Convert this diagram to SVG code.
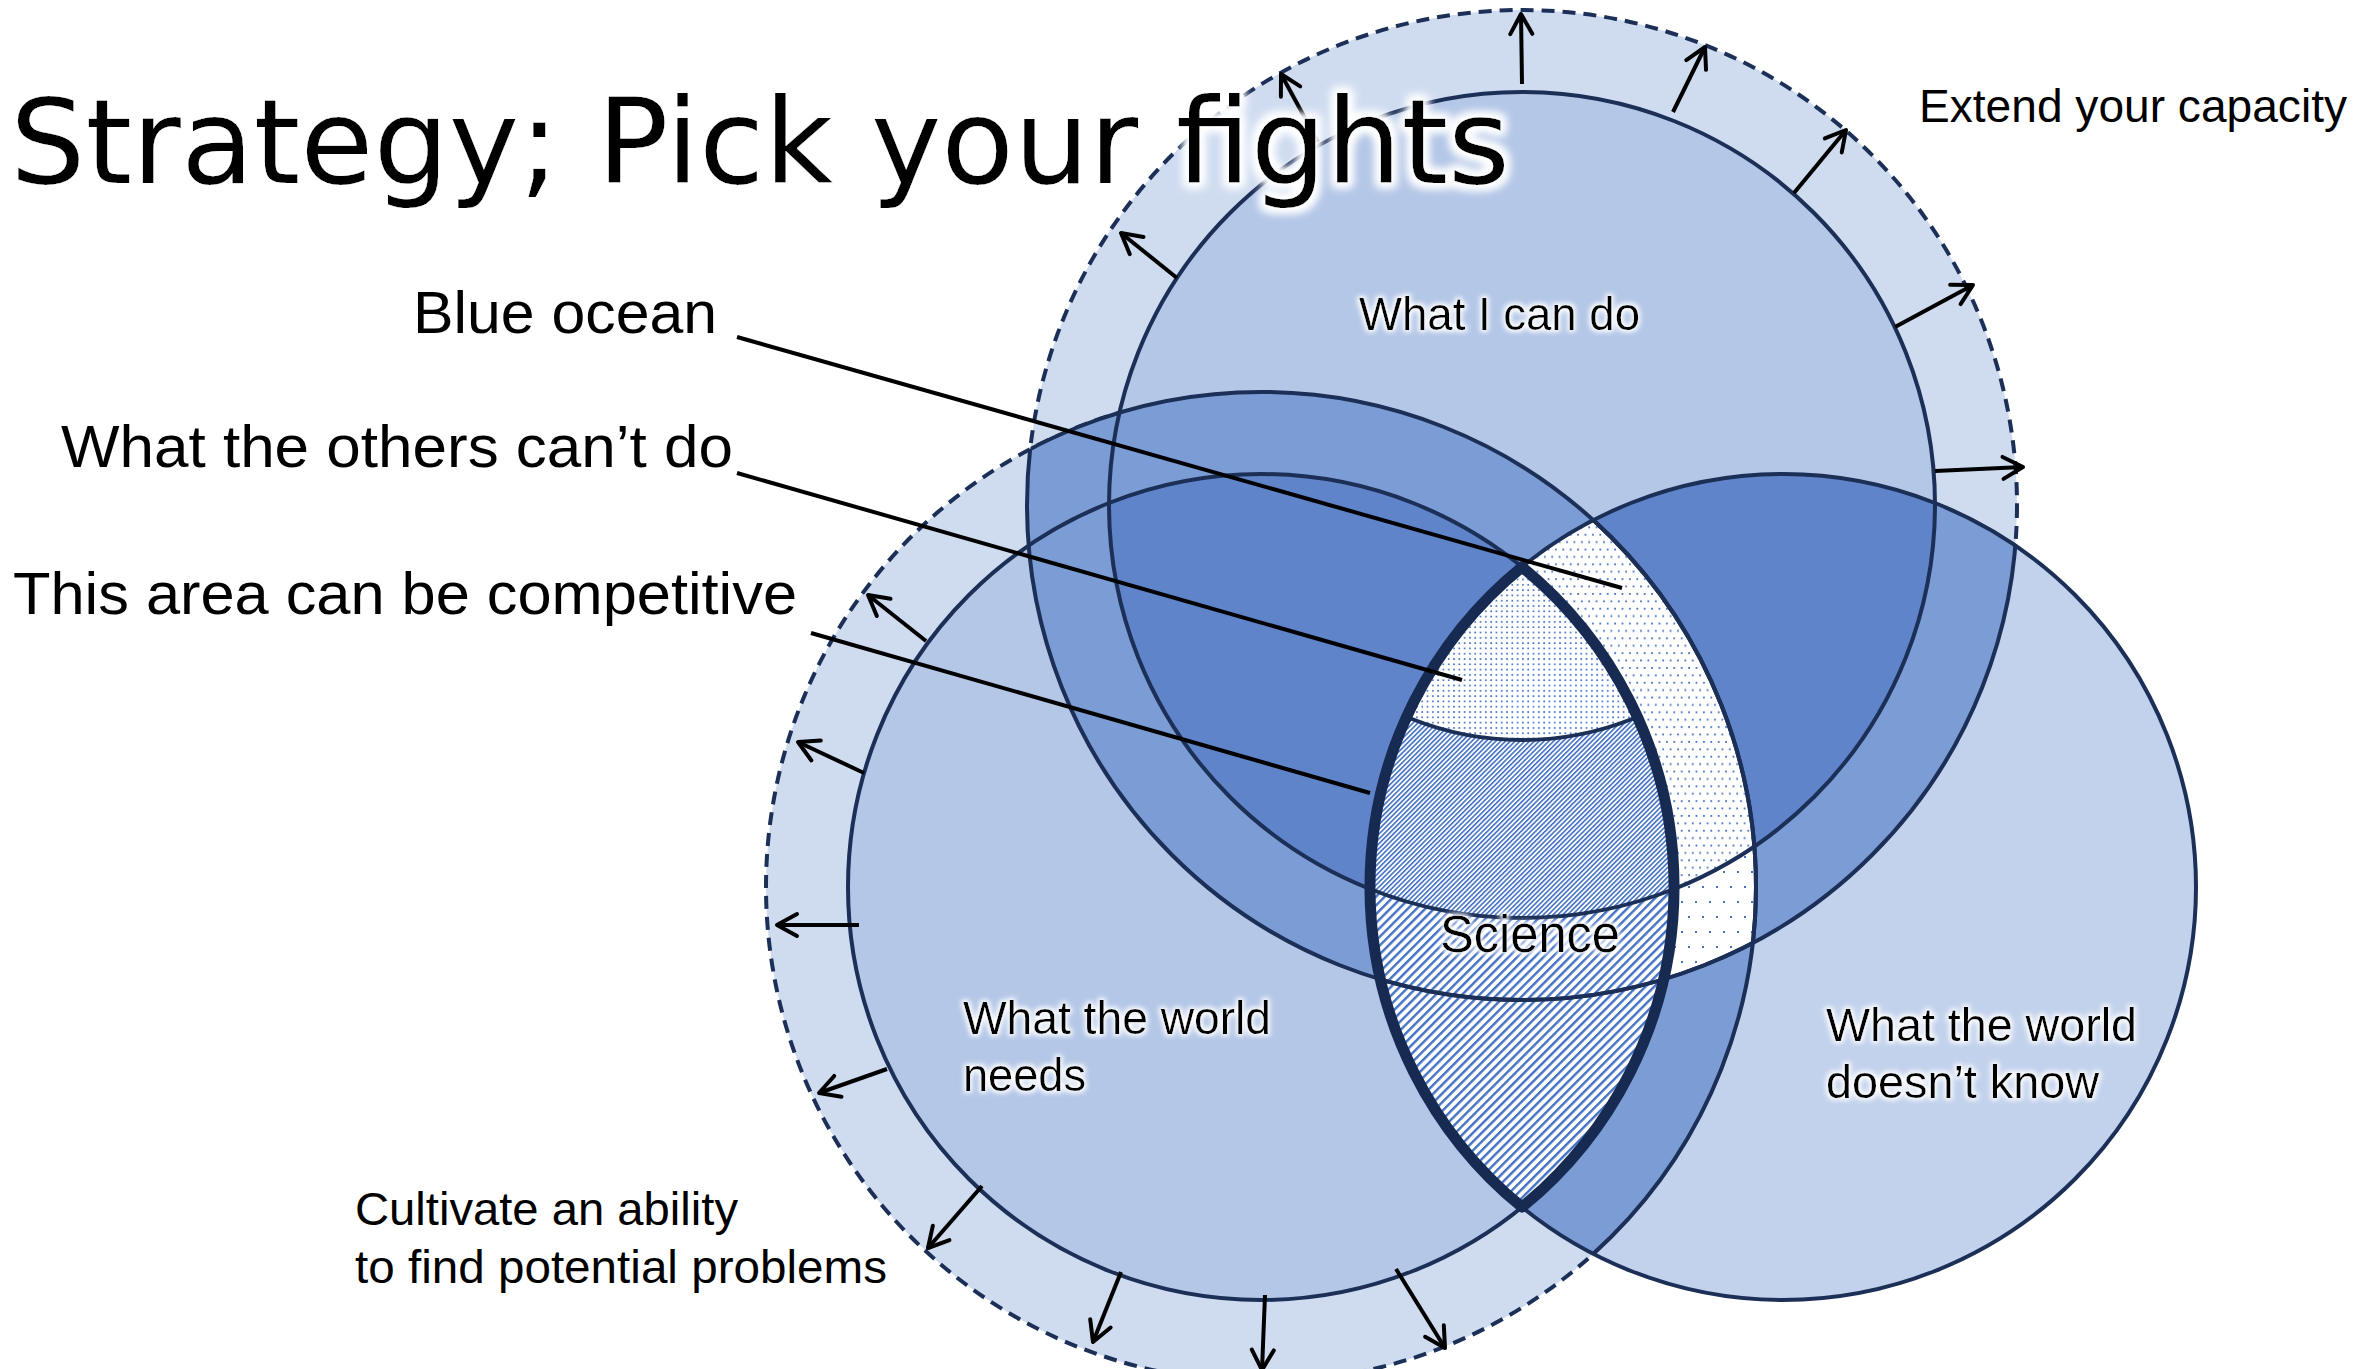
<svg xmlns="http://www.w3.org/2000/svg" width="2356" height="1369" viewBox="0 0 2356 1369">
<style>
  .txt{font-family:"Liberation Sans",Arial,sans-serif;fill:#000}
  .title{font-family:"DejaVu Sans",Verdana,sans-serif;font-size:118px;fill:#000}
  .st{stroke:#1b2f57;stroke-width:4}
  .nf{fill:none}
  .dash{stroke-dasharray:13 8}
  .lens{fill:none;stroke:#172b52;stroke-width:11;stroke-linejoin:round}
  .lead{stroke:#000;stroke-width:4;fill:none;stroke-linecap:butt}
  .arr{stroke:#000;stroke-width:4;fill:none;marker-end:url(#ah)}
  .light{fill:#cfdcf0}
  .base{fill:#b4c7e7}
  .cfill{fill:#c2d2ec}
  .mid{fill:#7b9cd4}
  .dark{fill:#5f84c9}
</style>
<defs>
  <clipPath id="cA"><circle cx="1522" cy="505" r="413"/></clipPath>
  <clipPath id="cAe"><circle cx="1522" cy="505" r="495"/></clipPath>
  <clipPath id="cB"><circle cx="1261" cy="887" r="413"/></clipPath>
  <clipPath id="cBe"><circle cx="1261" cy="887" r="495"/></clipPath>
  <clipPath id="cC"><circle cx="1783" cy="887" r="413"/></clipPath>
  <clipPath id="cS"><circle cx="1522" cy="441" r="299"/></clipPath>
  <pattern id="hatchFine" patternUnits="userSpaceOnUse" width="3.4" height="10" patternTransform="rotate(45)">
    <rect width="3.4" height="10" fill="#fff"/>
    <rect width="1.6" height="10" fill="#4472c4"/>
  </pattern>
  <pattern id="hatchCoarse" patternUnits="userSpaceOnUse" width="6.2" height="10" patternTransform="rotate(45)">
    <rect width="6.2" height="10" fill="#fff"/>
    <rect width="2.4" height="10" fill="#4472c4"/>
  </pattern>
  <pattern id="dotDense" patternUnits="userSpaceOnUse" width="5.3" height="5.3">
    <rect width="5.3" height="5.3" fill="#fff"/>
    <rect x="1" y="1" width="1.7" height="1.7" fill="#4472c4"/>
  </pattern>
  <pattern id="dotMed" patternUnits="userSpaceOnUse" width="7.4" height="14.8">
    <rect width="7.4" height="14.8" fill="#fff"/>
    <rect x="1" y="1" width="1.8" height="1.8" fill="#4472c4"/>
    <rect x="4.7" y="8.4" width="1.8" height="1.8" fill="#4472c4"/>
  </pattern>
  <pattern id="dotSparse" patternUnits="userSpaceOnUse" width="14" height="30">
    <rect width="14" height="30" fill="#fff"/>
    <rect x="1" y="1" width="2" height="2" fill="#4472c4"/>
    <rect x="8" y="16" width="2" height="2" fill="#4472c4"/>
  </pattern>
  <marker id="ah" markerUnits="userSpaceOnUse" markerWidth="34" markerHeight="34" viewBox="0 0 34 34" refX="29" refY="17" orient="auto" overflow="visible">
    <path d="M9,6 L29,17 L9,28" fill="none" stroke="#000" stroke-width="4" stroke-linecap="round" stroke-linejoin="round"/>
  </marker>
  <filter id="glowBig" x="-5%" y="-40%" width="110%" height="180%">
    <feMorphology in="SourceAlpha" operator="dilate" radius="4" result="d"/>
    <feGaussianBlur in="d" stdDeviation="5" result="b"/>
    <feFlood flood-color="#ffffff"/>
    <feComposite in2="b" operator="in" result="g"/>
    <feMerge><feMergeNode in="g"/><feMergeNode in="g"/><feMergeNode in="SourceGraphic"/></feMerge>
  </filter>
  <filter id="glow" x="-10%" y="-40%" width="120%" height="180%">
    <feMorphology in="SourceAlpha" operator="dilate" radius="1.5" result="d"/>
    <feGaussianBlur in="d" stdDeviation="2.5" result="b"/>
    <feFlood flood-color="#ffffff"/>
    <feComposite in2="b" operator="in" result="g"/>
    <feMerge><feMergeNode in="g"/><feMergeNode in="SourceGraphic"/></feMerge>
  </filter>
</defs>

<g id="regions">
  <g id="node-extend-capacity">
    <circle cx="1522" cy="505" r="495" class="light st dash"/>
  </g>
  <g id="node-cultivate-ability">
    <circle cx="1261" cy="887" r="495" class="light st dash"/>
  </g>
  <g id="node-world-doesnt-know-fill">
    <circle cx="1783" cy="887" r="413" class="cfill"/>
  </g>
  <g id="node-what-i-can-do-fill">
    <circle cx="1522" cy="505" r="413" class="base"/>
  </g>
  <g id="node-world-needs-fill">
    <circle cx="1261" cy="887" r="413" class="base"/>
  </g>
  <g clip-path="url(#cBe)"><circle cx="1522" cy="505" r="495" class="mid"/></g>
  <g clip-path="url(#cC)">
    <circle cx="1522" cy="505" r="495" class="mid"/>
    <circle cx="1261" cy="887" r="495" class="mid"/>
  </g>
  <g clip-path="url(#cB)"><circle cx="1522" cy="505" r="413" class="dark"/></g>
  <g clip-path="url(#cC)"><circle cx="1522" cy="505" r="413" class="dark"/></g>
  <g id="node-blue-ocean-area" clip-path="url(#cC)">
    <g clip-path="url(#cBe)">
      <circle cx="1522" cy="505" r="495" fill="url(#dotSparse)"/>
      <g clip-path="url(#cA)"><circle cx="1522" cy="505" r="495" fill="url(#dotMed)"/></g>
    </g>
  </g>
  <g id="node-science-area" clip-path="url(#cC)">
    <circle cx="1261" cy="887" r="413" fill="url(#hatchCoarse)"/>
    <g clip-path="url(#cA)"><circle cx="1261" cy="887" r="413" fill="url(#hatchFine)"/></g>
    <g clip-path="url(#cS)"><circle cx="1261" cy="887" r="413" fill="url(#dotDense)"/></g>
  </g>
  <g id="outlines" class="nf">
    <g clip-path="url(#cBe)"><circle cx="1522" cy="505" r="495" class="st nf"/></g>
    <g clip-path="url(#cAe)"><circle cx="1261" cy="887" r="495" class="st nf"/></g>
    <g clip-path="url(#cC)">
      <circle cx="1522" cy="505" r="495" class="st nf"/>
      <circle cx="1261" cy="887" r="495" class="st nf"/>
    </g>
    <circle cx="1522" cy="505" r="413" class="st nf"/>
    <circle cx="1261" cy="887" r="413" class="st nf"/>
    <circle cx="1783" cy="887" r="413" class="st nf"/>
    <g clip-path="url(#cC)"><g clip-path="url(#cB)"><circle cx="1522" cy="441" r="299" class="st nf"/></g></g>
    <path class="lens" d="M1522,566.9 A413,413 0 0 0 1522,1207.1 A413,413 0 0 0 1522,566.9 Z"/>
  </g>
</g>

<g id="connectors">
  <line class="lead" x1="737" y1="337" x2="1622" y2="588"/>
  <line class="lead" x1="737" y1="473" x2="1462" y2="680"/>
  <line class="lead" x1="811" y1="633" x2="1370" y2="793"/>
  <line class="arr" x1="1522" y1="84" x2="1521" y2="14"/>
  <line class="arr" x1="1673" y1="112" x2="1705" y2="47"/>
  <line class="arr" x1="1794" y1="193" x2="1846" y2="130"/>
  <line class="arr" x1="1895" y1="327" x2="1973" y2="285"/>
  <line class="arr" x1="1935" y1="471" x2="2023" y2="467"/>
  <line class="arr" x1="1177" y1="278" x2="1121" y2="233"/>
  <line class="arr" x1="1318" y1="142" x2="1281" y2="74"/>
  <line class="arr" x1="926" y1="641" x2="868" y2="595"/>
  <line class="arr" x1="864" y1="773" x2="798" y2="742"/>
  <line class="arr" x1="859" y1="925" x2="777" y2="925"/>
  <line class="arr" x1="887" y1="1069" x2="819" y2="1093"/>
  <line class="arr" x1="982" y1="1186" x2="928" y2="1248"/>
  <line class="arr" x1="1121" y1="1272" x2="1093" y2="1342"/>
  <line class="arr" x1="1265" y1="1295" x2="1262" y2="1370"/>
  <line class="arr" x1="1396" y1="1269" x2="1445" y2="1348"/>
</g>

<g id="labels">
  <g id="node-what-i-can-do"><text class="txt" x="1359" y="330" font-size="46" textLength="281" lengthAdjust="spacingAndGlyphs" filter="url(#glow)">What I can do</text></g>
  <g id="node-world-needs">
    <text class="txt" x="963" y="1034" font-size="46" textLength="308" lengthAdjust="spacingAndGlyphs" filter="url(#glow)">What the world</text>
    <text class="txt" x="963" y="1091" font-size="46" textLength="123" lengthAdjust="spacingAndGlyphs" filter="url(#glow)">needs</text>
  </g>
  <g id="node-world-doesnt-know">
    <text class="txt" x="1826" y="1041" font-size="46" textLength="311" lengthAdjust="spacingAndGlyphs" filter="url(#glow)">What the world</text>
    <text class="txt" x="1826" y="1098" font-size="46" textLength="273" lengthAdjust="spacingAndGlyphs" filter="url(#glow)">doesn’t know</text>
  </g>
  <g id="node-science"><text class="txt" x="1440" y="952" font-size="51" textLength="180" lengthAdjust="spacingAndGlyphs" filter="url(#glow)">Science</text></g>
  <g id="label-extend"><text class="txt" x="1919" y="122" font-size="46" textLength="428" lengthAdjust="spacingAndGlyphs">Extend your capacity</text></g>
  <g id="label-cultivate">
    <text class="txt" x="355" y="1225" font-size="46" textLength="383" lengthAdjust="spacingAndGlyphs">Cultivate an ability</text>
    <text class="txt" x="355" y="1283" font-size="46" textLength="532" lengthAdjust="spacingAndGlyphs">to find potential problems</text>
  </g>
  <g id="label-blue-ocean"><text class="txt" x="413" y="333" font-size="60" textLength="304" lengthAdjust="spacingAndGlyphs">Blue ocean</text></g>
  <g id="label-others"><text class="txt" x="61" y="467" font-size="60" textLength="672" lengthAdjust="spacingAndGlyphs">What the others can’t do</text></g>
  <g id="label-competitive"><text class="txt" x="13" y="614" font-size="60" textLength="784" lengthAdjust="spacingAndGlyphs">This area can be competitive</text></g>
  <g id="title"><text class="title" x="10" y="183" textLength="1500" lengthAdjust="spacingAndGlyphs" filter="url(#glowBig)">Strategy; Pick your fights</text></g>
</g>
</svg>
